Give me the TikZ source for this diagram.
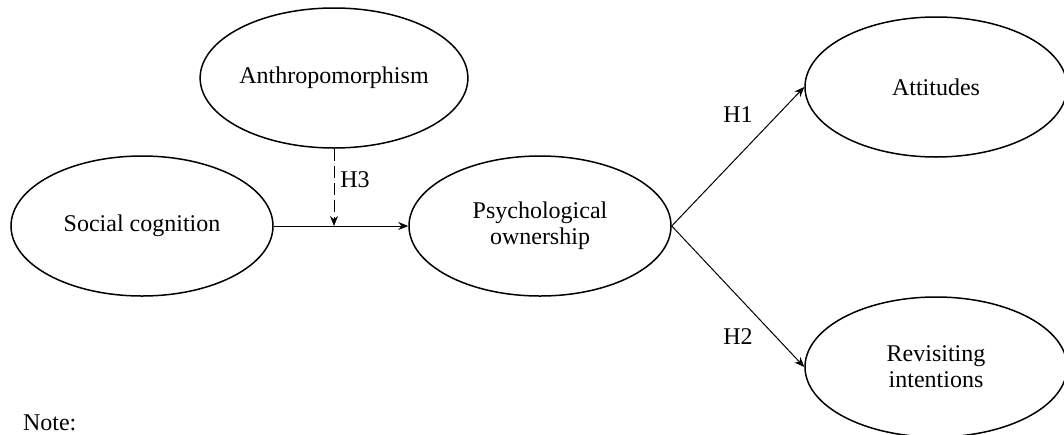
\documentclass[tikz,border=0pt]{standalone}
\usepackage{fontspec}
\setmainfont{Liberation Serif}
\usetikzlibrary{shapes.geometric, arrows.meta, positioning}

\begin{document}
\begin{tikzpicture}[x=0.5pt, y=-0.5pt,
  construct/.style={ellipse, draw, line width=0.75pt, minimum width=131pt, minimum height=70pt, inner sep=0pt, align=center, font=\fontsize{12}{13}\selectfont},
  hyp/.style={font=\fontsize{12}{13}\selectfont}]

\clip (0,0) rectangle (1064,434);

\node (AN) [construct] at (334,78) {Anthropomorphism};
\node (SC) [construct] at (142,226) {Social cognition};
\node (PO) [construct] at (540,226) {Psychological\\ownership};
\node (AT) [construct] at (936,87) {Attitudes};
\node (RI) [construct] at (936,367) {Revisiting\\intentions};
\coordinate (M) at (AN.south |- SC.east);

\node (H1) [hyp] at (738,115) {H1};
\node (H2) [hyp] at (738,337) {H2};
\node (H3) [hyp] at (355,180) {H3};
\node (N) [hyp, anchor=west] at (16,423) {Note:};

%Paths:
\path [line width=0.5pt, -{Stealth[length=5pt, width=4pt]}]
(SC) edge (PO)
(AN) edge [dash pattern=on 6pt off 2.5pt] (M)
(PO.east) edge (AT.west)
(PO.east) edge (RI.west)
;

\end{tikzpicture}
\end{document}
